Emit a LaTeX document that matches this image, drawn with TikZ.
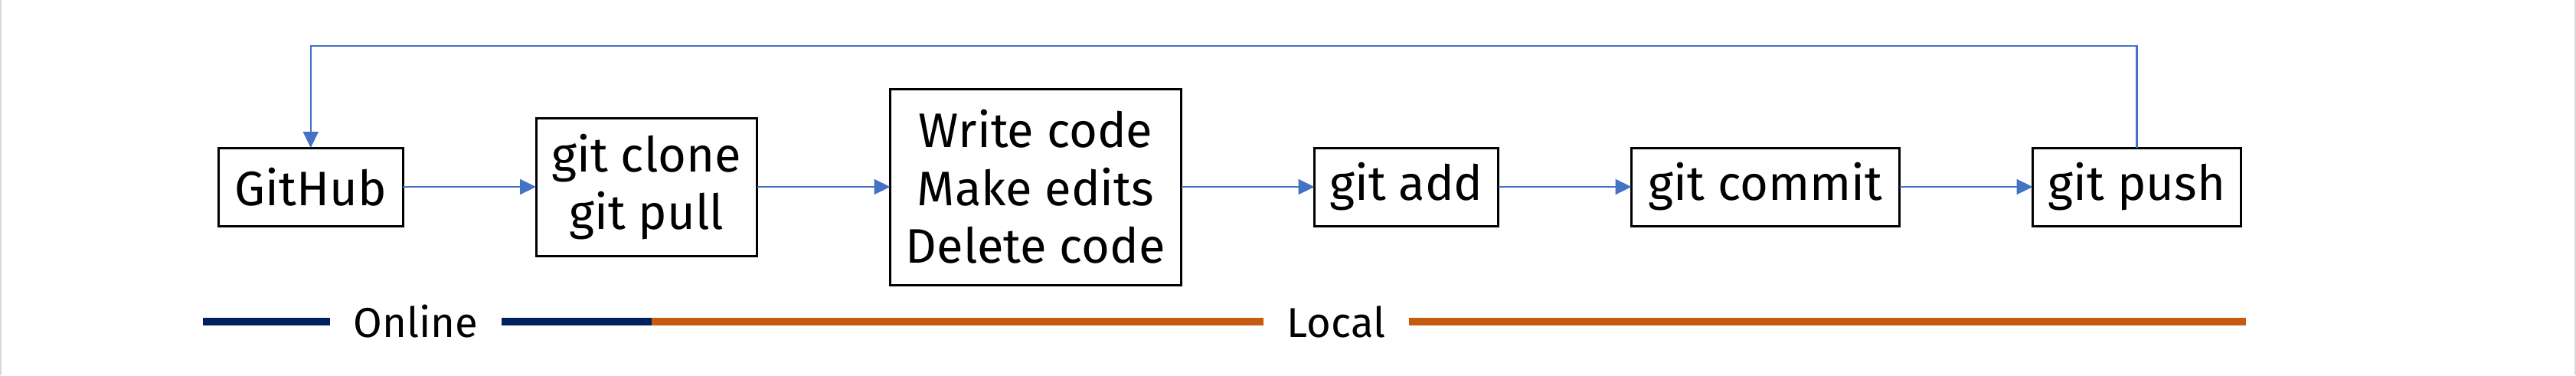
\documentclass[tikz,border=0pt]{standalone}
\usepackage{xcolor}
\usepackage{fontspec}
\setmainfont{Fira Sans}
\usepackage{tikz}
\usetikzlibrary{arrows.meta, positioning}

\definecolor{flowblue}{HTML}{4472C4}
\definecolor{onlinenavy}{HTML}{002060}
\definecolor{localorange}{HTML}{C55A11}

\begin{document}
\begin{tikzpicture}[
  node distance=17.4mm,
  >=Latex,
  box/.style={draw=black, line width=0.85pt, align=center, minimum height=1.02cm, inner sep=0pt, outer sep=0pt, font=\fontsize{18}{21.5}\selectfont},
  tag/.style={inner xsep=3mm, inner ysep=0pt, font=\fontsize{15.5}{18}\selectfont},
  arrow/.style={-{Triangle[length=2.1mm, width=2mm]}, line width=0.6pt, draw=flowblue},
  online/.style={line width=2.8pt, draw=onlinenavy},
  local/.style={line width=2.8pt, draw=localorange},
  edge/.style={line width=0.6pt, draw=black!15}
]
\useasboundingbox (0,0) rectangle (33.64,-4.90);
\draw[edge] (0.01,0) -- (0.01,-4.90);
\draw[edge] (33.63,0) -- (33.63,-4.90);

\node[box, minimum width=2.405cm] (github) at (4.0575,-2.44) {GitHub};

\node[box, right=of github, minimum width=2.885cm, minimum height=1.80cm] (clone) {git clone\\ git pull};

\node[box, right=of clone, minimum width=3.80cm, minimum height=2.56cm] (edit) {Write code\\ Make edits\\ Delete code};

\node[box, right=of edit, minimum width=2.40cm] (add) {git add};

\node[box, right=of add, minimum width=3.50cm] (commit) {git commit};

\node[box, right=of commit, minimum width=2.72cm] (push) {git push};

\draw[arrow] (github) -- (clone);
\draw[arrow] (clone) -- (edit);
\draw[arrow] (edit) -- (add);
\draw[arrow] (add) -- (commit);
\draw[arrow] (commit) -- (push);
\draw[arrow] (push.north) -- ++(0,1.33) -| (github.north);

% online / local bar
\node[tag] (online) at (5.43,-4.20) {Online};
\node[tag] (local) at (17.45,-4.20) {Local};
\coordinate (onS) at (2.65,-4.20);
\coordinate (split) at (8.51,-4.20);
\coordinate (locE) at (29.33,-4.20);

\draw[online] (onS) -- (online.west);
\draw[online] (online.east) -- (split);
\draw[local] (split) -- (local.west);
\draw[local] (local.east) -- (locE);

\end{tikzpicture}
\end{document}
